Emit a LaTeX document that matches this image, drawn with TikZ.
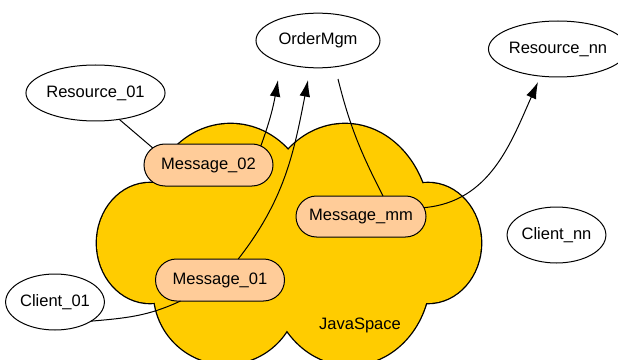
\documentclass[tikz,border=0pt]{standalone}
\usepackage{fontspec}
\setmainfont{Liberation Sans}
\usetikzlibrary{shapes.geometric,shapes.misc,arrows.meta}
\definecolor{cloudY}{HTML}{FFCC00}
\definecolor{msgF}{HTML}{FFCC99}
\begin{document}
\begin{tikzpicture}[x=0.75pt,y=-0.75pt,
  every node/.style={font=\fontsize{12.4}{14}\selectfont, inner sep=0pt, outer sep=0pt},
  ell/.style={draw, ellipse, line width=0.75pt, fill=white},
  msg/.style={draw, rounded rectangle, fill=msgF, line width=0.75pt, minimum width=96.75pt, minimum height=31.5pt},
  conn/.style={line width=0.75pt},
  arr/.style={conn, -{Latex[length=12.5pt,width=8pt]}}
]
\useasboundingbox (0,0) rectangle (618,360);
\clip (0,0) rectangle (618,360);
% cloud: union of lobes
\foreach \cx/\cy/\rx/\ry in {230.5/214/82/90, 345/224/84.7/100, 428/243/53/60, 350/275/80/90, 226/292/72/72, 150/243/53/60}
  \filldraw[fill=cloudY, draw=black, line width=2pt] (\cx,\cy) ellipse [x radius=\rx*0.75pt, y radius=\ry*0.75pt];
\foreach \cx/\cy/\rx/\ry in {230.5/214/82/90, 345/224/84.7/100, 428/243/53/60, 350/275/80/90, 226/292/72/72, 150/243/53/60}
  \fill[cloudY] (\cx,\cy) ellipse [x radius=\rx*0.75pt, y radius=\ry*0.75pt];
\node (js) at (360,325) {JavaSpace};
% ellipses
\node[ell, minimum width=93pt, minimum height=41pt] (om) at (318,40.5) {OrderMgm};
\node[ell, minimum width=88.5pt, minimum height=42pt] (rnn) at (558,49) {Resource\_nn};
\node[ell, minimum width=87pt, minimum height=42pt] (r01) at (95.5,93) {Resource\_01};
\node[ell, minimum width=70.5pt, minimum height=42pt] (c01) at (55,302) {Client\_01};
\node[ell, minimum width=70.5pt, minimum height=42pt] (cnn) at (556.5,235) {Client\_nn};
% messages
\node[msg] (m02) at (208.5,165) {Message\_02};
\node[msg, minimum width=97.5pt, minimum height=30.75pt] (mmm) at (361,216.5) {Message\_mm};
\node[msg] (m01) at (220,280) {Message\_01};
% free ends
\coordinate (t1) at (278,80);
\coordinate (t2) at (308,80);
\coordinate (s3) at (338,79);
\coordinate (t4) at (538,82);
% connectors
\draw[conn] (r01.-48) -- (m02.163);
\draw[arr] (m02.20) to[out=70,in=-100] (t1);
\draw[arr] (m01.49) to[out=52,in=-101] (t2);
\draw[conn] (s3) to[out=-76,in=117] (mmm.43);
\draw[arr] (mmm.8) to[out=5,in=-114] (t4);
\draw[conn] (c01.-28) to[out=5,in=-155] (m01.-152);
\end{tikzpicture}
\end{document}
